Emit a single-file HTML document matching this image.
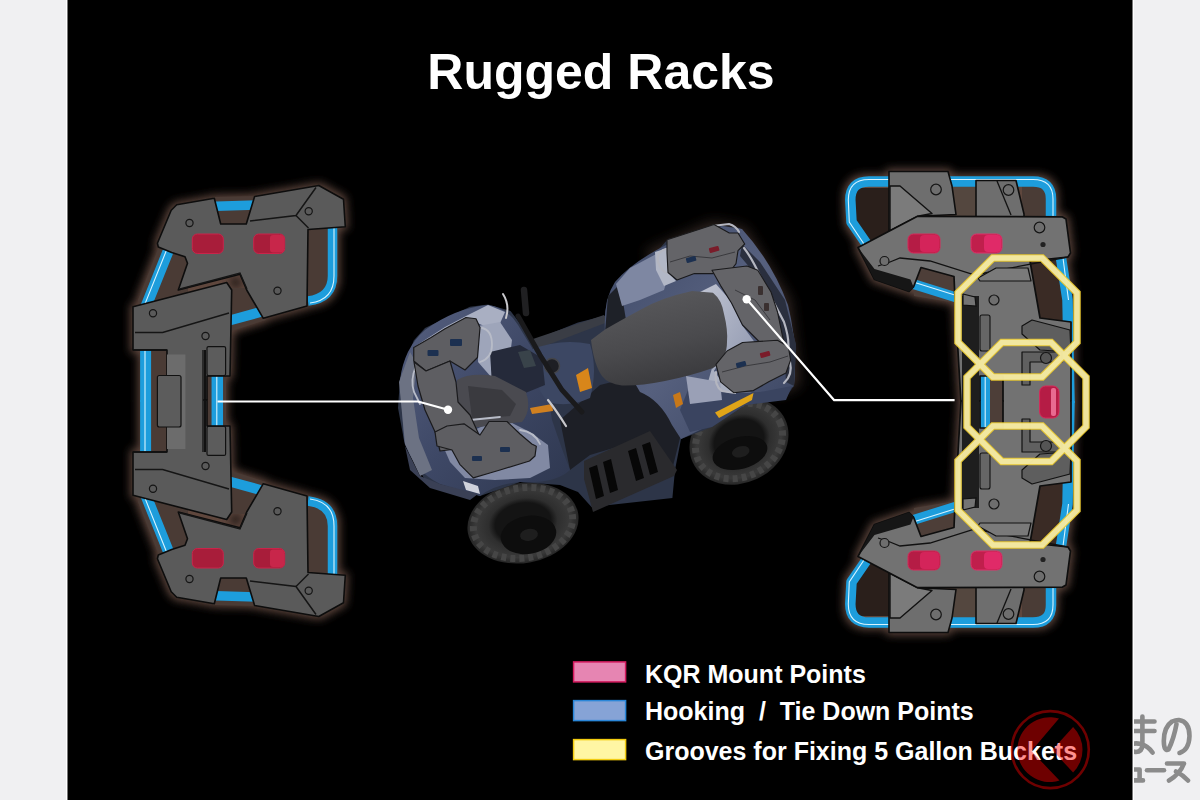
<!DOCTYPE html>
<html><head><meta charset="utf-8"><title>Rugged Racks</title>
<style>
html,body{margin:0;padding:0;width:1200px;height:800px;overflow:hidden;background:#f0f0f2;}
svg{position:absolute;left:0;top:0;display:block}
text{font-family:"Liberation Sans",sans-serif;font-weight:bold}
</style></head><body>
<svg width="1200" height="800" viewBox="0 0 1200 800">
<defs>
 <filter id="glow" x="-20%" y="-20%" width="140%" height="140%"><feGaussianBlur stdDeviation="7"/></filter>
 <filter id="blur2" x="-20%" y="-20%" width="140%" height="140%"><feGaussianBlur stdDeviation="2"/></filter>
 <filter id="glowF" x="-20%" y="-20%" width="140%" height="140%"><feMorphology operator="dilate" radius="2" in="SourceAlpha" result="d"/><feGaussianBlur in="d" stdDeviation="4.5" result="b"/><feFlood flood-color="#5e463d"/><feComposite in2="b" operator="in"/></filter>

 <!-- LEFT RACK top half -->
 <g id="lrTop">
  <!-- brown gap backing -->
  <g fill="#4a3b35">
   <polygon points="213,197 256,196 252,226 216,226"/>
   <polygon points="160,244 188,258 188,292 140,310 138,300"/>
   <polygon points="150,348 168,348 168,402 150,402"/>
   <polygon points="306,226 338,226 338,282 318,302 306,304"/>
   <polygon points="226,288 248,288 266,320 228,332"/>
   <polygon points="204,372 226,372 226,402 204,402"/>
  </g>
  <!-- tubes -->
  <g fill="none" stroke="#1d9ddc" stroke-linecap="butt">
   <path d="M208,206.5 L260,205" stroke-width="9.5"/>
   <path d="M171,244 L146.5,305 L145.6,350 L145.6,402" stroke-width="11"/>
   <path d="M332.5,222 L332.5,276 Q332.5,298 308,301" stroke-width="9.5"/>
   <path d="M224,322 L264,311" stroke-width="10"/>
   <path d="M217.3,370 L217.3,402" stroke-width="11.5"/>
  </g>
  <g fill="none" stroke="#d8f4ff" stroke-width="1.1">
   <path d="M169,244 L144.5,305 L145,350 L145,402"/>
   <path d="M334,224 L334,276 Q334,300 310,303"/>
   <path d="M216.8,372 L216.8,402"/>
  </g>
  <!-- tray -->
  <polygon fill="#5a5a5a" stroke="#0d0d0d" stroke-width="1.6" stroke-linejoin="round"
   points="176.7,204.7 214.3,198.3 220.7,224 246.3,224 254.6,196.5 318.8,185.5 343.5,199.3 345.3,226.8 308,229.5 307,306 263.3,318.3 246.7,290 240,274.2 178.3,290 187.5,263.3 185,256.7 171.7,252.5 158.3,247 157.4,243.3 171.2,210.3"/>
  <polyline fill="none" stroke="#151515" stroke-width="1.5" points="250,221 296,215.5 316,187.5"/>
  <polyline fill="none" stroke="#151515" stroke-width="1.5" points="296,215.5 308.5,228"/>
  <polyline fill="none" stroke="#151515" stroke-width="1.3" points="180,289 240,273 247,289"/>
  <!-- red pads -->
  <rect x="192.3" y="234" width="31" height="19.5" rx="5" fill="#a81d3a" stroke="#c9244a" stroke-width="1"/>
  <rect x="253.7" y="234" width="31" height="19.5" rx="5" fill="#a81d3a" stroke="#c9244a" stroke-width="1"/>
  <rect x="270" y="235" width="14" height="17.5" rx="3" fill="#c8264a"/>
  <!-- shoulder/spine -->
  <polygon fill="#5a5a5a" stroke="#0d0d0d" stroke-width="1.6" stroke-linejoin="round"
   points="133,306.7 226.7,282.5 231.7,290 230,376 207,376 207,402 167,402 167,350 133,350"/>
  <polyline fill="none" stroke="#151515" stroke-width="1.4" points="135,332.5 162.6,332.5 229,313"/>
  <line x1="205" y1="350" x2="205" y2="402" stroke="#111" stroke-width="2"/>
  <rect x="207" y="346.6" width="18.6" height="29" rx="1.5" fill="#5c5c5c" stroke="#111" stroke-width="1.2"/>
  <line x1="133" y1="350" x2="167" y2="350" stroke="#111" stroke-width="1.5"/>
  <!-- bolts -->
  <g fill="#5a5a5a" stroke="#151515" stroke-width="1.2">
   <circle cx="189.5" cy="223" r="3.6"/><circle cx="308.7" cy="211.2" r="3.6"/>
   <circle cx="277.5" cy="290.8" r="3.6"/><circle cx="153" cy="313.3" r="3.6"/>
   <circle cx="205.5" cy="336" r="3.6"/>
  </g>
 </g>

 <!-- RIGHT RACK top half -->
 <g id="rrTop">
  <g>
   <polygon fill="#2a1f1b" points="855,188 889,188 889,232 866,246 855,228"/>
   <polygon fill="#54473f" points="950,184 978,184 978,216 952,216"/>
   <polygon fill="#4a3c36" points="1022,184 1050,184 1058,218 1022,218"/>
   <polygon fill="#4d3e38" points="913,287 921,266 956,275 956,303 914,296"/>
   <polygon fill="#3a2b25" points="1028,258 1064,258 1068,322 1038,322"/>
   <rect x="988" y="370" width="17" height="33" fill="#4d3e38"/>
  </g>
  <g fill="none" stroke="#1d9ddc" stroke-linecap="butt" stroke-linejoin="round">
   <path d="M868,246 L851.5,222 L850.3,200 Q850.3,181.5 869,181.5 L1033,181.5 Q1051,181.5 1051,199 L1051,222 L1061,258 L1067.5,300 L1069.5,403" stroke-width="10.5"/>
   <path d="M910,283 L958,298" stroke-width="10"/>
   <path d="M984.5,368 L984.5,403" stroke-width="11"/>
  </g>
  <g fill="none" stroke="#d8f4ff" stroke-width="1.1">
   <path d="M866,247 L849.3,222 L848.3,200 Q848.3,179.5 869,179.5 L1033,179.5 Q1053,179.5 1053,199 L1053,222 L1063,258 L1068.5,300"/>
   <path d="M910,281 L958,296"/>
   <path d="M985.2,370 L985.2,403"/>
  </g>
  <!-- plate A -->
  <polygon fill="#6e6e6e" stroke="#0e0e0e" stroke-width="1.6" stroke-linejoin="round" points="889,171.5 948,171.5 952,186 956,214.5 917.5,216.3 889,231.2"/>
  <polygon fill="#7b7b7b" stroke="#111" stroke-width="1.4" stroke-linejoin="round" points="890,186 900,186 932,213.5 917.5,216.3 890,230.5"/>
  <!-- plate B -->
  <polygon fill="#6e6e6e" stroke="#0e0e0e" stroke-width="1.6" stroke-linejoin="round" points="976,180.5 1016,180.5 1024,214 1024,218 976,218"/>
  <line x1="997" y1="181" x2="1011" y2="215" stroke="#111" stroke-width="1.3"/>
  <!-- tray + spine -->
  <polygon fill="#727272" stroke="#0e0e0e" stroke-width="1.7" stroke-linejoin="round"
   points="858,247.5 917.5,216.3 1062.5,216.9 1066,219 1070.5,253 1068,257 1030,261 1040,318 1071,322 1071,403 1003,403 1003,376 980,376 980,403 961,403 955,300 954,276.5 921,267.5 913.5,287 909,291.5 874.5,279.5"/>
  <polygon fill="#161616" points="859.5,249.5 874.5,279.5 909,291.5 913.5,287 910.5,279.5 874.5,269"/>
  <polyline fill="none" stroke="#111" stroke-width="1.3" points="878,266 890,262 900,258 930,261 975,275 1000,270 1068,257"/>
  <rect x="962" y="296" width="17" height="107" fill="#1e1e1e"/>
  <polygon fill="#747474" stroke="#111" stroke-width="1.2" points="963,294 975,297 976,306 963,305"/>
  <rect x="980" y="315" width="10" height="36" rx="2" fill="#666" stroke="#111" stroke-width="1.1"/>
  <polygon fill="#7a7a7a" stroke="#111" stroke-width="1.2" stroke-linejoin="round" points="978,278 996,268 1028,268 1031,281 980,281"/>
  <polygon fill="#5e5e5e" stroke="#111" stroke-width="1.2" stroke-linejoin="round" points="1022,326 1032,320 1070,330 1071,352 1040,350 1022,334"/>
  <polygon fill="#606060" stroke="#111" stroke-width="1.2" stroke-linejoin="round" points="1022,352 1062,352 1062,362 1030,362 1030,385 1022,385"/>
  <!-- red pads -->
  <rect x="908" y="234" width="32" height="19" rx="5.5" fill="#b51c45" stroke="#d8285a" stroke-width="1"/>
  <rect x="920" y="235" width="19" height="17" rx="4" fill="#d4245a"/>
  <rect x="971" y="234" width="31" height="19" rx="5.5" fill="#c01f4c" stroke="#e0306a" stroke-width="1"/>
  <rect x="984" y="235" width="17" height="17" rx="4" fill="#e02a68"/>
  <g fill="#6e6e6e" stroke="#151515" stroke-width="1.2">
   <circle cx="936" cy="189.5" r="5.3"/><circle cx="1008.5" cy="190" r="5.3"/>
   <circle cx="1039.5" cy="227.5" r="5.3"/><circle cx="884.5" cy="261" r="4.5"/>
   <circle cx="994" cy="300" r="5"/><circle cx="1046" cy="358" r="5.5" fill="#555"/>
  </g>
  <circle cx="1043" cy="244.5" r="2.6" fill="#222"/>
 </g>
</defs>

<rect x="0" y="0" width="1200" height="800" fill="#f0f0f2"/>
<rect x="66" y="0" width="1" height="800" fill="#fff"/>
<rect x="1133" y="0" width="1" height="800" fill="#fff"/>
<rect x="67.5" y="0" width="1065" height="800" fill="#000"/>

<text x="601" y="89" font-size="50" fill="#fff" text-anchor="middle">Rugged Racks</text>

<!-- left rack glow -->
<g filter="url(#glowF)"><use href="#lrTop"/><use href="#lrTop" transform="matrix(1,0,0,-1,0,802)"/></g>
<use href="#lrTop"/>
<use href="#lrTop" transform="matrix(1,0,0,-1,0,802)"/>


<!-- left rack middle (non-mirrored) -->
<rect x="184" y="385" width="19" height="32" fill="#5a5a5a"/>
<rect x="167" y="354.5" width="18.4" height="94.5" fill="#6c6c6c"/>
<rect x="157.4" y="375.5" width="23.6" height="51.5" rx="2" fill="#5c5c5c" stroke="#111" stroke-width="1.2"/>
<line x1="203" y1="350" x2="203" y2="452" stroke="#111" stroke-width="1.3"/>
<!-- right rack glow -->
<g filter="url(#glowF)"><use href="#rrTop"/><use href="#rrTop" transform="matrix(1,0,0,-1,0,804)"/></g>
<use href="#rrTop"/>
<use href="#rrTop" transform="matrix(1,0,0,-1,0,804)"/>
<rect x="1004" y="392" width="66" height="20" fill="#727272"/>
<rect x="962" y="392" width="17" height="20" fill="#1e1e1e"/>
<rect x="1039.6" y="386" width="19.4" height="32" rx="6" fill="#b51c45" stroke="#d8285a" stroke-width="1"/>
<rect x="1051" y="388" width="5" height="28" rx="2" fill="#e86a90"/>
<!-- octagons -->
<g fill="none" opacity="0.97" stroke-linejoin="miter">
 <g id="octs" stroke="#e6c630" stroke-width="7.5">
  <polygon id="oct1" points="992.85,258 1042.15,258 1077,292.85 1077,342.15 1042.15,377 992.85,377 958,342.15 958,292.85"/>
  <polygon points="1001.85,342.5 1051.15,342.5 1086,377.35 1086,426.65 1051.15,461.5 1001.85,461.5 967,426.65 967,377.35"/>
  <polygon points="992.85,426 1042.15,426 1077,460.85 1077,510.15 1042.15,545 992.85,545 958,510.15 958,460.85"/>
 </g>
 <g stroke="#f6eba2" stroke-width="5.4">
  <polygon points="992.85,258 1042.15,258 1077,292.85 1077,342.15 1042.15,377 992.85,377 958,342.15 958,292.85"/>
  <polygon points="1001.85,342.5 1051.15,342.5 1086,377.35 1086,426.65 1051.15,461.5 1001.85,461.5 967,426.65 967,377.35"/>
  <polygon points="992.85,426 1042.15,426 1077,460.85 1077,510.15 1042.15,545 992.85,545 958,510.15 958,460.85"/>
 </g>
</g>


<!-- ATV -->
<g id="atv">
 <defs>
  <linearGradient id="gFront" x1="0" y1="0" x2="1" y2="1">
   <stop offset="0" stop-color="#566080"/><stop offset="0.5" stop-color="#3e4866"/><stop offset="1" stop-color="#2e374f"/>
  </linearGradient>
  <linearGradient id="gRear" x1="0" y1="0" x2="1" y2="1">
   <stop offset="0" stop-color="#3d4866"/><stop offset="0.5" stop-color="#56607e"/><stop offset="1" stop-color="#3a4460"/>
  </linearGradient>
  <linearGradient id="gSeat" x1="0.2" y1="0" x2="0.5" y2="1">
   <stop offset="0" stop-color="#5a5a5d"/><stop offset="0.6" stop-color="#4a4a4d"/><stop offset="1" stop-color="#3a3a3d"/>
  </linearGradient>
  <linearGradient id="gSilver" x1="0" y1="0" x2="1" y2="1">
   <stop offset="0" stop-color="#c0c4d2"/><stop offset="1" stop-color="#8e96ae"/>
  </linearGradient>
  <radialGradient id="gTire" cx="0.5" cy="0.5" r="0.5">
   <stop offset="0.5" stop-color="#141414"/><stop offset="0.62" stop-color="#2e2e2e"/><stop offset="0.85" stop-color="#3a3a3a"/><stop offset="1" stop-color="#262626"/>
  </radialGradient>
 </defs>
 <!-- rear rack glow -->
 <g filter="url(#glow)" opacity="0.75"><polygon fill="#4a3832" points="645,252 712,222 745,228 790,300 800,385 775,395 700,330"/></g>
 <!-- tires -->
 <ellipse cx="523" cy="523" rx="56" ry="40" fill="url(#gTire)" transform="rotate(-10 523 523)"/>
 <ellipse cx="523" cy="523" rx="50" ry="35" fill="none" stroke="#464646" stroke-width="7" stroke-dasharray="5 4" transform="rotate(-10 523 523)"/>
 <ellipse cx="528.5" cy="535" rx="28" ry="19" fill="#0d0d0d" transform="rotate(-10 528 535)"/>
 <ellipse cx="529" cy="535" rx="9" ry="6" fill="#1e1e1e" transform="rotate(-10 528 535)"/>
 <ellipse cx="739" cy="441" rx="51" ry="42" fill="url(#gTire)" transform="rotate(-25 739 441)"/>
 <ellipse cx="739" cy="441" rx="45" ry="36" fill="none" stroke="#464646" stroke-width="7" stroke-dasharray="5 4" transform="rotate(-25 739 441)"/>
 <ellipse cx="740" cy="453" rx="28" ry="16" fill="#0d0d0d" transform="rotate(-15 740 453)"/>
 <ellipse cx="741" cy="452" rx="9" ry="5.5" fill="#1e1e1e" transform="rotate(-15 740 453)"/>
 <!-- body base -->
 <polygon fill="#2d3548" points="398,408 400,378.7 413.7,340.5 425,328 470,306.7 488,304.5 510.5,311 533,340.5 578,322.5 605,315.7 607,300 618.5,284 650,259.5 668,239 722,225.7 740,228 785,300 796,345 794,385.5 785,399 745,405 712,427 681,439 675,470 672.4,498 591.5,507 578,492 560,485 520,482 480,496 425,480 404.7,444"/>
 <!-- dark side panel / footwell -->
 <polygon fill="#1d1f26" points="560,420 600,385 640,375 680,380 682,430 672,470 640,440 590,455 570,470"/>
 <!-- front fender -->
 <path fill="url(#gFront)" d="M400,380 Q404,348 425,330 Q455,308 488,305 Q508,308 518,325 L532,348 Q548,385 552,420 Q562,450 570,470 Q555,484 520,482 Q495,484 480,496 L440,484 Q412,470 404,440 Z"/>
 <!-- front silver highlights -->
 <polygon fill="#a9afc2" points="414,347 431,336 445,327 466,316 488,305 505,312 498,328 482,325 466,318 445,329 431,339 416,350"/>
 <polygon fill="#9ea5ba" points="478,326 500,322 512,340 508,372 492,378 478,362"/>
 <polygon fill="#8189a3" points="436,430 460,436 488,424 510,422 530,432 548,445 550,468 530,478 495,480 465,478 450,462"/>
 <polygon fill="#6c7283" points="399,382 410,352 417,364 413,398 419,438 432,470 420,476 405,444"/>
 <polygon fill="#3a4055" points="405,446 420,476 440,484 478,494 470,500 430,488 410,470"/>
 <polygon fill="#cfd2dc" points="463,481 478,486 480,494 466,490"/>
 <!-- frame bar -->
 <polygon fill="#3a3d45" points="530,340 604,315 608,322 534,350"/>
 <!-- rear fender -->
 <path fill="url(#gRear)" d="M605,332 Q603,300 615,282 Q632,262 668,244 L722,226 L742,229 Q772,262 788,305 Q798,345 794,386 Q775,398 745,405 Q720,418 700,430 L681,439 L672,425 Q660,400 640,392 Z"/>
 <polygon fill="#1e2128" points="605,333 608,296 620,284 626,320"/>
 <polygon fill="#7e87a2" points="616,284 630,268 660,252 668,250 670,270 664,290 640,300 622,306"/>
 <polygon fill="#2a2f3e" points="742,244 760,262 785,300 796,345 794,386 786,382 784,345 772,310 756,275 740,256"/>
 <polygon fill="url(#gSilver)" points="700,292 716,284 730,300 742,325 756,344 738,348 722,358 712,374 716,345 710,318"/>
 <polygon fill="#b2b7c6" points="655,252 667,248 668,272 676,281 664,286 656,270"/>
 <polygon fill="#a9afc0" points="712,368 722,382 735,393 752,392 742,398 718,396 708,382"/>
 <polygon fill="#3a4460" points="690,385 730,393 760,392 792,386 786,400 745,405 712,427 690,432 680,410"/>
 <polygon fill="#9aa0b6" points="686,376 720,382 722,400 690,404"/>
 <polygon fill="#e0a418" points="715,412.5 753.5,393 752,400 719,418"/>
 <polygon fill="#c87818" points="673,395 680,392 683,404 676,408"/>
 <!-- seat -->
 <path fill="url(#gSeat)" d="M591,340 L605,329.5 Q625,318 640,310 Q660,298 692,291 L713,292.7 Q722,300 724,314 Q728,330 727,342 Q727,360 713,368 Q690,376 665,381 Q640,386 622,385.5 Q608,384 602,376 Q594,365 591,340 Z"/>
 <!-- tank -->
 <path fill="#3c4763" d="M530,350 Q560,338 590,344 Q598,370 590,398 Q568,408 548,402 Q532,385 530,350 Z"/>
 <circle cx="552" cy="366" r="7.5" fill="#1e1f24" stroke="#44454a" stroke-width="1.5"/>
 <!-- instrument pod -->
 <polygon fill="#252a3a" points="490,352 520,345 542,358 545,385 518,396 492,385"/>
 <polygon fill="#39434a" points="518,352 530,350 536,366 524,368"/>
 <!-- cargo box front -->
 <path fill="#4a4a50" d="M457,380 Q470,372 495,376 L526,392 Q532,410 522,422 L470,428 Q456,414 457,380 Z"/>
 <path fill="#3a3a3f" d="M468,386 L502,390 L516,404 L510,416 L472,419 Z"/>
 <!-- footrest -->
 <polygon fill="#2a2a2d" points="584,461 650,431 677,470 674,476 593,512 584,479"/>
 <g fill="#070707">
  <polygon points="589,468 597,465 604,496 596,499"/>
  <polygon points="603,462 611,459 618,490 610,493"/>
  <polygon points="628,451 636,448 644,478 636,481"/>
  <polygon points="642,445 650,442 658,472 650,475"/>
 </g>
 <!-- orange accents -->
 <polygon fill="#d8861a" points="576,375 588,368 592,388 580,392"/>
 <polygon fill="#d08020" points="530,408 552,404 553,411 532,414"/>
 <!-- handlebar -->
 <g stroke-linecap="round" fill="none">
  <path d="M518,316 L540,355 L562,390 L582,412" stroke="#1a1a1c" stroke-width="5"/>
  <path d="M524,290 L526,313" stroke="#202022" stroke-width="6.5"/>
  <path d="M503,294 Q510,305 506,318" stroke="#c8c8cc" stroke-width="2"/>
  <path d="M548,400 Q556,410 566,426" stroke="#c8c8cc" stroke-width="2.2"/>
 </g>
 <g fill="none" stroke="#b8bcc8" stroke-width="1.8" stroke-linecap="round">
  <path d="M482,328 Q492,330 492,345 Q492,358 480,362"/>
  <path d="M416,366 Q410,380 414,392 L420,404"/>
  <path d="M470,420 L500,417 M520,430 Q535,432 540,444"/>
 </g>
 <!-- front rack -->
 <g fill="#5e5e62" stroke="#1a1a1c" stroke-width="1.2" stroke-linejoin="round">
  <polygon points="413.75,347.5 431,337.5 445,328.75 466,317.5 476,318.75 480,327.5 477.5,357.5 465,370 450,361 426,371 413.75,361"/>
  <polygon points="414,362 426,371 450,361 456,382 458,402 470,415 480,437 480,446 440,451 436,434 425,410 418,386"/>
  <polygon points="435,432 447,426 464,423.8 480,435 489,421.5 507,421.5 520,434 531.8,444 536.3,446.3 535,456 529.5,461 500,470 489,473.3 473.3,477.8 459.8,464.3 452,450 437,446"/>
 </g>
 <g fill="#1c3050">
  <rect x="427.5" y="350" width="11" height="6" rx="1"/><rect x="450" y="339" width="12" height="7" rx="1"/>
  <rect x="472" y="456" width="10" height="5" rx="1"/><rect x="500" y="447" width="10" height="5" rx="1"/>
 </g>
 <!-- rear rack -->
 <g fill="none" stroke="#b4b6c0" stroke-width="2.2" stroke-linecap="round">
  <path d="M666,249 Q656,252 658,262 Q661,272 670,274"/>
  <path d="M712,226 L729,224 Q736,226 739,232"/>
  <path d="M744,248 Q752,258 762,280 L784,322 Q790,340 788,352"/>
  <path d="M716,372 Q714,386 722,391 L735,393"/>
  <path d="M790,362 Q793,375 784,383"/>
 </g>
 <g fill="#646468" stroke="#1a1a1c" stroke-width="1.1" stroke-linejoin="round">
  <polygon points="667,239.7 701,228.7 714,224.4 729.3,233 738,233 744.7,244 738,250.6 736,263.7 729.3,272.5 712,273.6 694.4,273.6 677,280 668,272.5 667,252.8"/>
  <polygon points="712,270.3 747,266 757.8,270.3 771,292 777.5,312 782,333.7 784,342.5 760,342.5 742.5,325 731.5,303 720.6,285.6"/>
  <polygon points="716,364.3 727,351 742.5,342.5 777.5,340.3 788.4,346.8 790.6,360 786,373 768.7,381.8 753.4,390.6 733.7,392.7 720.6,381.8"/>
 </g>
 <g fill="none" stroke="#3a3a3e" stroke-width="1">
  <polyline points="670,262 690,256 712,258 735,252"/>
  <polyline points="722,372 745,366 770,362 788,356"/>
  <polyline points="735,290 755,300 770,320"/>
 </g>
 <g fill="#1c3050">
  <rect x="686" y="257" width="10" height="5" rx="1" transform="rotate(-15 691 259)"/><rect x="736" y="362" width="10" height="5" rx="1" transform="rotate(-15 741 364)"/>
 </g>
 <g fill="#7a1c2a"><rect x="709" y="247" width="10" height="5" rx="1" transform="rotate(-15 714 249)"/><rect x="760" y="352" width="10" height="5" rx="1" transform="rotate(-15 765 354)"/></g>
 <g fill="#3a3030"><rect x="758" y="286" width="5" height="9" rx="1"/><rect x="764" y="303" width="5" height="8" rx="1"/></g>
</g>

<!-- connector lines -->
<g fill="none" stroke="#fff" stroke-width="2.2" stroke-linejoin="round">
 <polyline points="217.5,401.5 418,401.5 448,409.7"/>
 <polyline points="746.7,299.2 834.2,400.2 954.6,400.2"/>
</g>
<circle cx="448" cy="409.7" r="4.2" fill="#fff"/>
<circle cx="746.7" cy="299.2" r="4.2" fill="#fff"/>

<!-- legend -->
<rect x="573.6" y="661.9" width="52" height="20" fill="#e685b2" stroke="#d41a5e" stroke-width="1.5"/>
<rect x="573.6" y="700.6" width="52" height="20" fill="#86a3d6" stroke="#2a86d8" stroke-width="1.5"/>
<rect x="573.6" y="739.6" width="52" height="20" fill="#fff6a4" stroke="#f2cc10" stroke-width="1.5"/>
<g fill="#fff" font-size="25">
 <text x="645" y="683">KQR Mount Points</text>
 <text x="645" y="719.8" xml:space="preserve">Hooking  /  Tie Down Points</text>
 <text x="645" y="760.3">Grooves for Fixing 5 Gallon Buckets</text>
</g>


<!-- watermark -->
<defs><clipPath id="clipR"><rect x="1134" y="0" width="66" height="800"/></clipPath></defs>
<g clip-path="url(#clipR)" fill="none" stroke="#8b8b8b" stroke-width="4.6" stroke-linecap="round" stroke-linejoin="round">
 <path d="M1128,721.5 L1154.5,721.5 M1128,731 L1154.5,731 M1142.4,716.5 L1142.4,745 Q1142,752 1136,752 Q1129,751 1130,746 Q1133,742 1141,744 Q1148,746 1152.5,752.5"/>
 <path d="M1176.5,724 Q1174,738 1168.5,749.5 Q1164,752 1163.8,741 Q1163.8,727 1172,721.5 Q1176,719.8 1179,720 Q1189.5,721.5 1189.5,736 Q1189,750 1179.5,753"/>
 <path d="M1128,769.5 L1139.6,769.5 L1139.6,780.4 M1126,780.4 L1143,780.4"/>
 <path d="M1147,770.3 L1164,770.3"/>
 <path d="M1167,763.5 L1184,763.5 Q1180,774 1169,780.5 M1176,771.5 Q1183,775 1188,780.5"/>
</g>
<g>
 <circle cx="1050.3" cy="749.6" r="38.5" fill="none" stroke="rgba(255,0,0,0.43)" stroke-width="2.6"/>
 <path fill="rgba(255,0,0,0.43)" d="M1059,718.6 A32.4,32.4 0 1 0 1059.5,780.6 L1031.4,751 Z"/>
 <path fill="rgba(255,0,0,0.43)" d="M1073.1,726.9 L1052.3,750 L1073.1,772.6 A32.4,32.4 0 0 0 1073.1,726.9 Z"/>
</g>

</svg>
</body></html>
